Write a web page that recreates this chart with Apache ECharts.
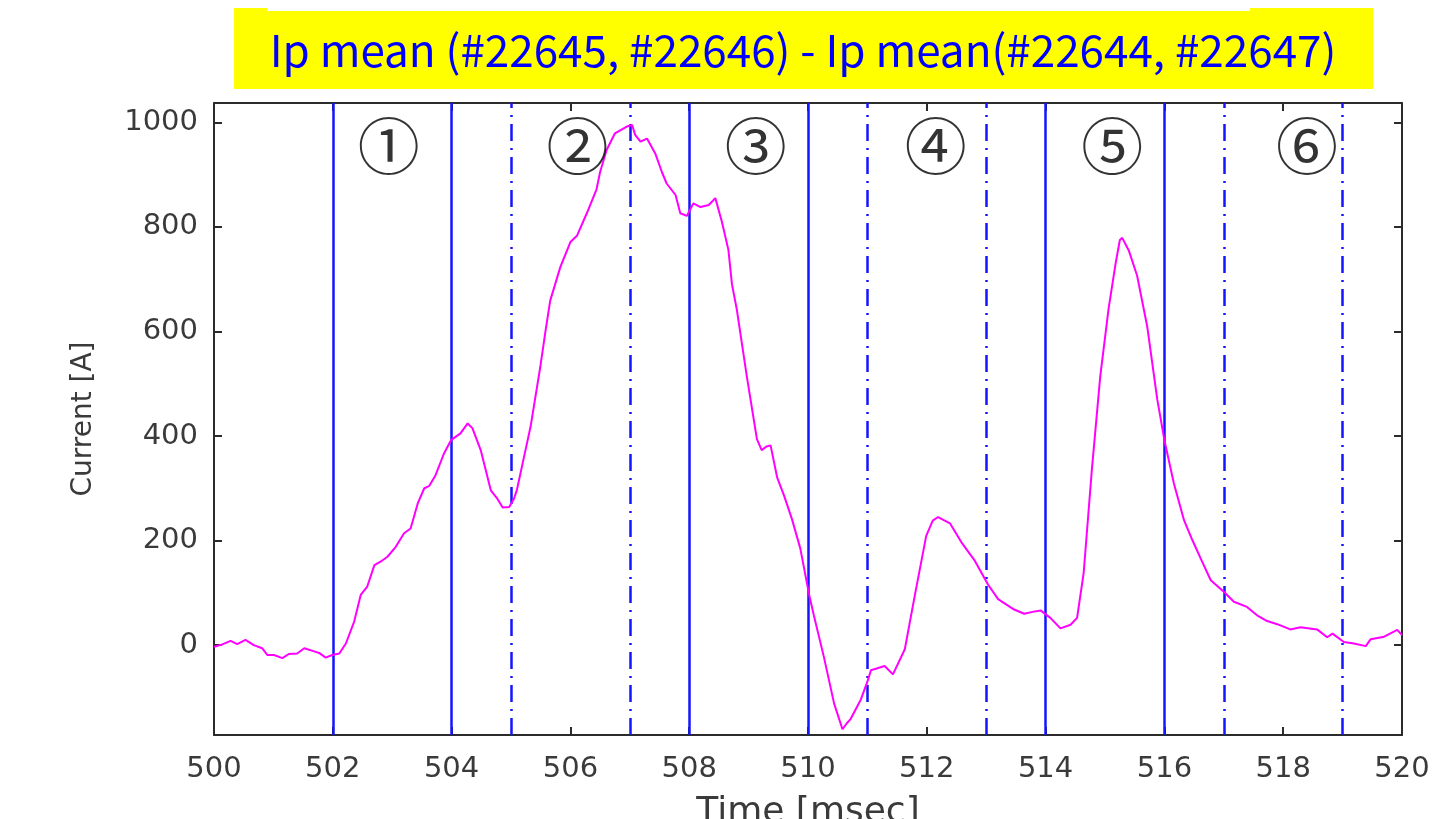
<!DOCTYPE html>
<html>
<head>
<meta charset="utf-8">
<script src="https://cdn.jsdelivr.net/npm/echarts@6/dist/echarts.min.js"></script>
<style>
  html, body { margin: 0; padding: 0; background: #ffffff; }
  #chart { width: 1445px; height: 819px; }
</style>
</head>
<body>
<div id="chart"></div>
<script>
// Plasma current difference between shot pairs, 500–520 ms
const timeMs = [
  500.00, 500.11, 500.28, 500.39, 500.53, 500.67, 500.81, 500.90, 501.01, 501.15,
  501.26, 501.40, 501.52, 501.66, 501.77, 501.88, 501.99, 502.11, 502.22, 502.36,
  502.47, 502.58, 502.70, 502.81, 502.92, 503.06, 503.20, 503.31, 503.43, 503.54,
  503.62, 503.73, 503.87, 503.99, 504.15, 504.27, 504.35, 504.49, 504.66, 504.77,
  504.86, 504.97, 505.05, 505.10, 505.20, 505.33, 505.49, 505.58, 505.66, 505.83,
  506.00, 506.11, 506.28, 506.44, 506.50, 506.61, 506.75, 506.95, 507.04, 507.09,
  507.18, 507.29, 507.43, 507.54, 507.62, 507.77, 507.85, 507.96, 508.07, 508.19,
  508.33, 508.44, 508.55, 508.66, 508.72, 508.80, 508.97, 509.14, 509.22, 509.30,
  509.37, 509.48, 509.60, 509.73, 509.87, 510.02, 510.10, 510.27, 510.44, 510.58,
  510.65, 510.72, 510.89, 511.00, 511.06, 511.29, 511.43, 511.63, 511.80, 511.99,
  512.10, 512.19, 512.39, 512.58, 512.81, 513.03, 513.20, 513.47, 513.64, 513.80,
  513.92, 514.08, 514.25, 514.42, 514.53, 514.64, 514.78, 514.92, 515.06, 515.18,
  515.25, 515.29, 515.40, 515.54, 515.71, 515.88, 516.00, 516.16, 516.33, 516.47,
  516.61, 516.78, 517.00, 517.17, 517.39, 517.56, 517.73, 517.90, 518.12, 518.29,
  518.57, 518.74, 518.83, 519.02, 519.19, 519.39, 519.47, 519.70, 519.92, 520.00
];
const currentA = [
    -3,    0,    8,    2,   10,    0,   -6,  -19,  -19,  -25,
   -17,  -16,   -6,  -11,  -15,  -24,  -19,  -16,    3,   45,
    96,  112,  153,  160,  169,  188,  214,  223,  271,  300,
   304,  325,  366,  392,  405,  424,  415,  373,  296,  280,
   263,  264,  280,  297,  350,  418,  530,  600,  659,  723,
   771,  783,  827,  872,  905,  947,  979,  992,  995,  976,
   963,  969,  940,  905,  883,  861,  826,  821,  845,  838,
   842,  855,  810,  756,  690,  643,  514,  394,  373,  380,
   382,  321,  285,  241,  185,   96,   56,  -24, -112, -161,
  -150, -141, -104,  -70,  -48,  -40,  -56,   -8,   96,  209,
   238,  245,  233,  197,  161,  116,   88,   68,   60,   64,
    66,   52,   32,   39,   52,  137,  337,  514,  643,  731,
   775,  779,  755,  707,  610,  470,  392,  309,  239,  201,
   166,  124,  102,   83,   73,   57,   46,   40,   30,   34,
    30,   15,   22,    6,    3,   -2,   11,   16,   29,   19
];

// Phase boundaries (ms)
const solidMarkers = [502, 504, 508, 510, 514, 516];
const dashDotMarkers = [505, 507, 511, 513, 517, 519];

// Phase numbers and where they sit
const regionLabels = ['①', '②', '③', '④', '⑤', '⑥'];
const regionLabelTime = [502.94, 506.12, 509.12, 512.15, 515.12, 518.40];
const regionLabelLevel = 954;

const yTickValues = [0, 200, 400, 600, 800, 1000];
const titleText = 'Ip mean (#22645, #22646) - Ip mean(#22644, #22647)';
const xName = 'Time [msec]';
const yName = 'Current [A]';

const axisColor = '#2b2b2b';
const labelFont = { fontFamily: 'DejaVu Sans', fontSize: 29, color: '#3a3a3a' };
const frameLine = { show: true, onZero: false, lineStyle: { color: axisColor, width: 2 } };
const innerTick = { show: true, inside: true, length: 8, lineStyle: { color: axisColor, width: 2 } };

const chart = echarts.init(document.getElementById('chart'), null, { renderer: 'canvas' });

const markerLines = solidMarkers.map(v => ({ xAxis: v, lineStyle: { type: 'solid' } }))
  .concat(dashDotMarkers.map(v => ({ xAxis: v, lineStyle: { type: [17, 7, 2, 7] } })));

chart.setOption({
  animation: false,
  backgroundColor: '#ffffff',
  grid: {
    left: 214, right: 43, top: 103, bottom: 84,
    containLabel: false, outerBoundsMode: 'none'
  },
  graphic: [
    { type: 'rect', shape: { x: 234, y: 8, width: 1139, height: 81 }, style: { fill: '#ffff00' }, z: 10 },
    { type: 'rect', shape: { x: 267, y: 7, width: 983, height: 4 }, style: { fill: '#ffffff' }, z: 11 },
    {
      type: 'text', x: 803, y: 50, z: 12,
      style: {
        text: titleText, fill: '#0000ff', font: '44px "Noto Sans CJK KR"',
        textAlign: 'center', textVerticalAlign: 'middle'
      }
    }
  ],
  xAxis: [
    {
      type: 'value', position: 'bottom', min: 500, max: 520, interval: 2,
      axisLine: frameLine, axisTick: innerTick, splitLine: { show: false },
      axisLabel: Object.assign({ margin: 20, formatter: v => String(v) }, labelFont),
      name: xName, nameLocation: 'middle', nameGap: 60,
      nameTextStyle: { fontFamily: 'DejaVu Sans', fontSize: 36, color: '#3a3a3a' }
    },
    {
      type: 'value', position: 'top', min: 500, max: 520, interval: 2,
      axisLine: frameLine, axisTick: innerTick, splitLine: { show: false },
      axisLabel: { show: false }
    }
  ],
  yAxis: [
    {
      type: 'value', position: 'left', min: -172, max: 1037,
      axisLine: frameLine,
      axisTick: Object.assign({ customValues: yTickValues }, innerTick),
      splitLine: { show: false },
      axisLabel: Object.assign({ margin: 16, customValues: yTickValues, formatter: v => String(v) }, labelFont),
      name: yName, nameLocation: 'middle', nameGap: 116, nameRotate: 90,
      nameTextStyle: { fontFamily: 'DejaVu Sans', fontSize: 28, color: '#3a3a3a' }
    },
    {
      type: 'value', position: 'right', min: -172, max: 1037,
      axisLine: frameLine,
      axisTick: Object.assign({ customValues: yTickValues }, innerTick),
      splitLine: { show: false },
      axisLabel: { show: false }
    }
  ],
  series: [
    {
      type: 'scatter',
      xAxisIndex: 0, yAxisIndex: 0,
      symbolSize: 1,
      itemStyle: { color: 'rgba(0,0,0,0)' },
      data: regionLabelTime.map((t, i) => [t, regionLabelLevel, regionLabels[i]]),
      label: {
        show: true, position: 'inside',
        formatter: p => p.data[2],
        fontFamily: 'Noto Sans CJK KR', fontSize: 62, color: '#000000'
      },
      markLine: {
        silent: true, symbol: ['none', 'none'],
        label: { show: false },
        lineStyle: { color: '#1414ff', width: 2.5 },
        data: markerLines,
        z: 1
      },
      z: 4
    },
    {
      type: 'line',
      xAxisIndex: 0, yAxisIndex: 0,
      showSymbol: false,
      data: timeMs.map((t, i) => [t, currentA[i]]),
      lineStyle: { color: '#ff00ff', width: 2 },
      itemStyle: { color: '#ff00ff' },
      z: 3
    }
  ]
});
</script>
</body>
</html>
